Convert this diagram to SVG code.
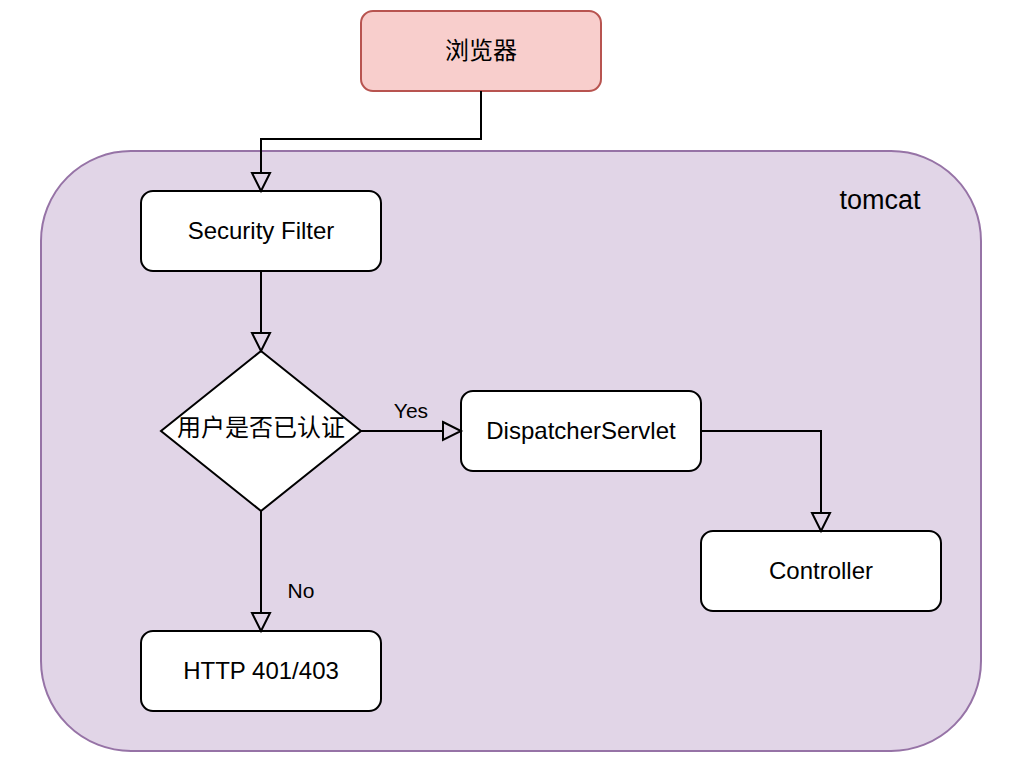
<svg xmlns="http://www.w3.org/2000/svg" width="1022" height="772" viewBox="0 0 1022 772">
<style>
.node{fill:#ffffff;stroke:#000000;stroke-width:2}
.t{font-family:"Liberation Sans","Noto Sans CJK SC",Arial,sans-serif;font-size:24px;fill:#000;text-anchor:middle;dominant-baseline:central}
.lbl{font-family:"Liberation Sans",Arial,sans-serif;font-size:21px;fill:#000;text-anchor:middle;dominant-baseline:central}
.edge{fill:none;stroke:#000;stroke-width:2}
</style>
<defs>
<marker id="open" viewBox="-2 -11 23 22" refX="0" refY="0" markerWidth="23" markerHeight="22" markerUnits="userSpaceOnUse" orient="auto">
<path d="M0,-9 L18,0 L0,9 Z" fill="none" stroke="#000" stroke-width="2" stroke-linejoin="miter"/>
</marker>
</defs>
<rect width="1022" height="772" fill="#ffffff"/>
<g id="tomcat">
<rect x="41" y="151" width="940" height="600" rx="90" ry="90" fill="#e1d5e7" stroke="#9673a6" stroke-width="2"/>
<text x="880" y="200" class="t" style="font-size:27px">tomcat</text>
</g>
<g id="browser">
<rect x="361" y="11" width="240" height="80" rx="12" ry="12" fill="#f8cecc" stroke="#b85450" stroke-width="2"/>
<text x="481" y="50" class="t">浏览器</text>
</g>
<g id="security-filter">
<rect x="141" y="191" width="240" height="80" rx="12" ry="12" class="node"/>
<text x="261" y="230" class="t">Security Filter</text>
</g>
<g id="decision">
<path d="M261,351 L361,431 L261,511 L161,431 Z" class="node"/>
<text x="261" y="427" class="t">用户是否已认证</text>
</g>
<g id="dispatcher">
<rect x="461" y="391" width="240" height="80" rx="12" ry="12" class="node"/>
<text x="581" y="430" class="t">DispatcherServlet</text>
</g>
<g id="controller">
<rect x="701" y="531" width="240" height="80" rx="12" ry="12" class="node"/>
<text x="821" y="570" class="t">Controller</text>
</g>
<g id="http">
<rect x="141" y="631" width="240" height="80" rx="12" ry="12" class="node"/>
<text x="261" y="670" class="t">HTTP 401/403</text>
</g>
<g id="connectors">
<path d="M481,91 L481,139 L261,139 L261,173" class="edge" marker-end="url(#open)"/>
<path d="M261,271 L261,333" class="edge" marker-end="url(#open)"/>
<path d="M361,431 L443,431" class="edge" marker-end="url(#open)"/>
<path d="M701,431 L821,431 L821,513" class="edge" marker-end="url(#open)"/>
<path d="M261,511 L261,613" class="edge" marker-end="url(#open)"/>
<text x="411" y="410" class="lbl">Yes</text>
<text x="301" y="590" class="lbl">No</text>
</g>
</svg>
